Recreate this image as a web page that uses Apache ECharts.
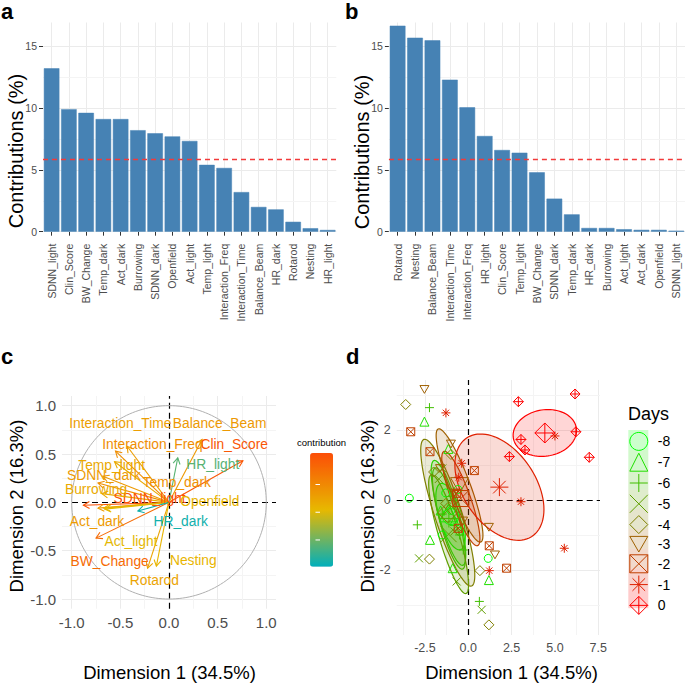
<!DOCTYPE html>
<html><head><meta charset="utf-8">
<script src="https://cdn.jsdelivr.net/npm/echarts@6/dist/echarts.min.js"></script>
<style>html,body{margin:0;padding:0;background:#fff}#c{width:685px;height:683px}</style>
</head><body><div id="c"></div>
<script>
// ---------- DATA ----------
const categoriesA = ['SDNN_light','Clin_Score','BW_Change','Temp_dark','Act_dark','Burrowing','SDNN_dark','Openfield','Act_light','Temp_light','Interaction_Freq','Interaction_Time','Balance_Beam','HR_dark','Rotarod','Nesting','HR_light'];
const contribA = [13.2,9.9,9.6,9.1,9.1,8.2,7.95,7.7,7.33,5.4,5.15,3.2,2.0,1.8,0.8,0.28,0.14];
const categoriesB = ['Rotarod','Nesting','Balance_Beam','Interaction_Time','Interaction_Freq','HR_light','Clin_Score','Temp_light','BW_Change','SDNN_dark','Temp_dark','HR_dark','Burrowing','Act_light','Act_dark','Openfield','SDNN_light'];
const contribB = [16.64,15.67,15.46,12.28,10.05,7.73,6.6,6.38,4.8,2.67,1.4,0.3,0.3,0.2,0.15,0.15,0.08];
const expectedContrib = 5.88;
const contribTicks = [0,5,10,15];

const pcaVars = ['SDNN_light','Clin_Score','BW_Change','Temp_dark','Act_dark','Burrowing','SDNN_dark','Openfield','Act_light','Temp_light','Interaction_Freq','Interaction_Time','Balance_Beam','HR_dark','Rotarod','Nesting','HR_light'];
const pcaDim1 = [-0.88,0.76,-0.75,-0.73,-0.73,-0.69,-0.68,-0.67,-0.66,-0.56,-0.55,-0.43,0.34,-0.32,-0.22,-0.13,0.09];
const pcaDim2 = [-0.03,0.43,-0.37,0.20,-0.06,0.09,0.27,-0.06,-0.07,0.42,0.53,0.58,0.65,-0.09,-0.68,-0.66,0.46];
const pcaContrib = [8.99,8.85,8.06,6.63,6.23,5.66,6.25,5.28,5.04,5.72,6.72,6.11,6.31,1.32,5.88,5.21,2.57];
const pcaLabelX = [-0.20,0.67,-0.61,0.08,-0.74,-0.75,-0.67,0.42,-0.39,-0.59,-0.17,-0.50,0.52,0.12,-0.15,0.25,0.45];
const pcaLabelY = [0.04,0.60,-0.61,0.21,-0.20,0.13,0.28,0.01,-0.40,0.38,0.60,0.82,0.82,-0.20,-0.81,-0.60,0.39];
const circleTicks = [-1,-0.5,0,0.5,1];
const contribLegendTicks = [3,5,7];

const days = ['-8','-7','-6','-5','-4','-3','-2','-1','0'];
const dayM8 = [[-3.40,0.05],[1.15,-1.67],[-1.30,0.20],[-0.50,-0.90],[-1.00,-0.30],[-1.50,-1.00],[-0.60,0.30]];
const dayM7 = [[-2.53,2.24],[-2.21,-1.14],[1.19,-2.29],[-1.15,1.46],[-0.90,-1.95],[-1.60,-0.30],[-0.80,-0.60]];
const dayM6 = [[-2.24,2.64],[-2.94,-0.71],[0.64,-2.90],[-0.29,-1.43],[-1.50,-0.40],[-1.00,0.10],[-0.50,-1.00]];
const dayM5 = [[-2.84,-1.67],[0.77,-3.14],[-0.67,-2.33],[-1.70,0.60],[-1.20,-0.30],[-0.80,-0.90],[-1.50,0.90]];
const dayM4 = [[-3.61,2.73],[-2.24,-1.69],[0.67,-2.02],[1.19,-3.57],[-1.00,1.30],[-2.00,0.80],[-1.30,-0.10]];
const dayM3 = [[-2.53,3.16],[-1.00,1.60],[1.19,-0.78],[1.54,-1.57],[-1.63,0.90],[-0.80,0.20],[-0.30,-0.60]];
const dayM2 = [[-3.32,1.95],[-2.21,1.38],[0.35,0.84],[1.21,-1.31],[2.21,-1.95],[-0.58,-0.81],[-0.67,0.19]];
const dayM1 = [[-1.29,2.49],[-0.38,1.05],[-0.55,0.65],[3.04,-0.05],[5.00,1.83],[5.54,-1.38],[1.21,-2.02]];
const day0  = [[2.89,2.81],[6.16,3.03],[3.04,1.73],[3.27,1.43],[2.37,1.24],[6.21,1.95],[6.98,1.22]];
// ellipse spread per group: [sdX, sdY, correlation]
const ellipseM8 = [0.85,0.95,-0.6];
const ellipseM7 = [1.0,1.5,-0.8];
const ellipseM6 = [0.95,1.45,-0.8];
const ellipseM5 = [1.15,1.7,-0.85];
const ellipseM4 = [1.56,2.1,-0.85];
const ellipseM3 = [1.35,1.62,-0.88];
const ellipseM2 = [1.1,1.35,-0.85];
const ellipseM1 = [2.57,1.52,-0.42];
const ellipse0  = [1.83,0.67,0.1];
const dimXTicks = [-2.5,0,2.5,5,7.5];
const dimYTicks = [-2,0,2];

// ---------- STYLE ----------
const FONT = 'Liberation Sans, Arial, Helvetica, sans-serif';
const groups = [dayM8,dayM7,dayM6,dayM5,dayM4,dayM3,dayM2,dayM1,day0];
const ellipses = [ellipseM8,ellipseM7,ellipseM6,ellipseM5,ellipseM4,ellipseM3,ellipseM2,ellipseM1,ellipse0];
const dayColors = ['#00FF00','#20DF00','#40BF00','#609F00','#7F7F00','#9F6000','#BF4000','#DF2000','#FF0000'];
const daySymbols = ['circle','triangle','path://M5 0L5 10M0 5L10 5','path://M0 0L10 10M10 0L0 10','diamond',
  'path://M0 0L10 0L5 8.66Z','path://M0 0L10 0L10 10L0 10ZM0 0L10 10M10 0L0 10',
  'path://M5 0L5 10M0 5L10 5M1.5 1.5L8.5 8.5M8.5 1.5L1.5 8.5','path://M5 0L10 5L5 10L0 5ZM5 0L5 10M0 5L10 5'];
const daySizes = [8,9,9,8,10,9,8,9,10];
function hexA(h,a){const n=parseInt(h.slice(1),16);return `rgba(${n>>16},${(n>>8)&255},${n&255},${a})`;}
const means = groups.map(g=>[g.reduce((s,p)=>s+p[0],0)/g.length, g.reduce((s,p)=>s+p[1],0)/g.length]);

const tick = {show:true,length:4,lineStyle:{color:'#333333',width:1}};
function lab(fs,extra){return Object.assign({color:'#4D4D4D',fontSize:fs,fontFamily:FONT},extra||{});}
function gridLines(xi,yi,xs,ys,color,width,z,type){
  return {type:'line',xAxisIndex:xi,yAxisIndex:yi,data:[],silent:true,z:z,
    markLine:{z:z,silent:true,symbol:['none','none'],label:{show:false},animation:false,
      lineStyle:{color:color,width:width,type:type||'solid'},emphasis:{disabled:true},
      data:[...xs.map(v=>({xAxis:v})),...ys.map(v=>({yAxis:v}))]}};
}
function minors(ticks){const r=[];for(let i=0;i<ticks.length-1;i++)r.push((ticks[i]+ticks[i+1])/2);return r;}
const abMinY=[...minors(contribTicks)];
const cMinX=[-0.75,-0.25,0.25,0.75];
const dMinX=[-3.75,...minors(dimXTicks)];
const dMinY=[-3,...minors(dimYTicks),3];

const chart = echarts.init(document.getElementById('c'),null,{renderer:'svg'});
const catAxis = (gi,data)=>({type:'category',gridIndex:gi,data:data,axisLine:{show:false},
  axisTick:Object.assign({alignWithLabel:true},tick),splitLine:{show:false},
  axisLabel:lab(10.5,{rotate:90,interval:0,margin:12})});
const customAxis = (gi,min,max,ticks,fs,fmt)=>({type:'value',gridIndex:gi,min:min,max:max,axisLine:{show:false},
  axisTick:Object.assign({customValues:ticks},tick),splitLine:{show:false},
  axisLabel:lab(fs,{customValues:ticks,formatter:fmt,margin:6})});

const series = [];
// panel a
series.push(gridLines(0,0,categoriesA,contribTicks,'#EBEBEB',1,1));
series.push(gridLines(0,0,[],abMinY,'#F4F4F4',1,1));
series.push({type:'bar',xAxisIndex:0,yAxisIndex:0,z:4,barWidth:'90%',data:contribA,
  itemStyle:{color:'#4682B4',borderColor:'#4682B4',borderWidth:0.5},silent:true});
series.push(gridLines(0,0,[],[expectedContrib],'#F23A3A',1.3,6,[5,4]));
// panel b
series.push(gridLines(1,1,categoriesB,contribTicks,'#EBEBEB',1,1));
series.push(gridLines(1,1,[],abMinY,'#F4F4F4',1,1));
series.push({type:'bar',xAxisIndex:1,yAxisIndex:1,z:4,barWidth:'90%',data:contribB,
  itemStyle:{color:'#4682B4',borderColor:'#4682B4',borderWidth:0.5},silent:true});
series.push(gridLines(1,1,[],[expectedContrib],'#F23A3A',1.3,6,[5,4]));
// panel c
series.push(gridLines(2,2,circleTicks.filter(v=>v!==0),circleTicks.filter(v=>v!==0),'#EBEBEB',1,1));
series.push(gridLines(2,2,cMinX,cMinX,'#F4F4F4',1,1));
const circ=[];for(let k=0;k<=180;k++){const t=k/180*2*Math.PI;circ.push([Math.cos(t),Math.sin(t)]);}
series.push({type:'line',xAxisIndex:2,yAxisIndex:2,data:circ,showSymbol:false,symbol:'none',z:2,silent:true,
  lineStyle:{color:'#B0B0B0',width:1}});
series.push(gridLines(2,2,[0],[0],'#000000',1.2,2,[6,4]));
const arrowIdx = series.length;
series.push({type:'custom',xAxisIndex:2,yAxisIndex:2,z:4,silent:true,
  data:pcaVars.map((n,i)=>[pcaDim1[i],pcaDim2[i],pcaContrib[i]]),encode:{x:0,y:1},
  renderItem:function(params,api){
    const o=api.coord([0,0]),t=api.coord([api.value(0),api.value(1)]);
    const col=api.visual('color');const ang=Math.atan2(t[1]-o[1],t[0]-o[0]);const L=7,a=Math.PI/6;
    const p1=[t[0]-L*Math.cos(ang-a),t[1]-L*Math.sin(ang-a)],p2=[t[0]-L*Math.cos(ang+a),t[1]-L*Math.sin(ang+a)];
    return {type:'group',children:[
      {type:'line',shape:{x1:o[0],y1:o[1],x2:t[0],y2:t[1]},style:{stroke:col,lineWidth:1.1}},
      {type:'polyline',shape:{points:[p1,t,p2]},style:{stroke:col,fill:null,lineWidth:1.1}}]};
  }});
const labelIdx = series.length;
series.push({type:'custom',xAxisIndex:2,yAxisIndex:2,z:5,silent:true,
  data:pcaVars.map((n,i)=>[pcaLabelX[i],pcaLabelY[i],pcaContrib[i]]),encode:{x:0,y:1},
  renderItem:function(params,api){
    const p=api.coord([api.value(0),api.value(1)]);
    return {type:'text',x:p[0],y:p[1],style:{text:pcaVars[params.dataIndex],fill:api.visual('color'),
      fontSize:13.8,fontFamily:FONT,align:'center',verticalAlign:'middle'}};
  }});
// panel d
series.push(gridLines(3,3,dimXTicks.filter(v=>v!==0),dimYTicks.filter(v=>v!==0),'#EBEBEB',1,1));
series.push(gridLines(3,3,dMinX,dMinY,'#F4F4F4',1,1));
series.push(gridLines(3,3,[0],[0],'#000000',1.2,2,[6,4]));
groups.forEach((g,i)=>{
  series.push({type:'custom',name:'ellipse'+days[i],xAxisIndex:3,yAxisIndex:3,z:3,silent:true,
    data:[[means[i][0],means[i][1],ellipses[i][0],ellipses[i][1],ellipses[i][2]]],encode:{x:0,y:1},
    renderItem:function(params,api){
      const cx=api.value(0),cy=api.value(1),sx=api.value(2),sy=api.value(3),r=api.value(4);
      const pts=[];for(let k=0;k<=90;k++){const t=k/90*2*Math.PI;
        pts.push(api.coord([cx+sx*Math.cos(t),cy+sy*(r*Math.cos(t)+Math.sqrt(1-r*r)*Math.sin(t))]));}
      return {type:'polygon',shape:{points:pts},style:{fill:hexA(dayColors[i],0.16),stroke:dayColors[i],lineWidth:1.2}};
    }});
});
groups.forEach((g,i)=>{
  series.push({type:'scatter',name:days[i],xAxisIndex:3,yAxisIndex:3,z:4,silent:true,
    symbol:daySymbols[i],symbolKeepAspect:true,symbolSize:daySizes[i],
    itemStyle:{color:'rgba(0,0,0,0)',borderColor:dayColors[i],borderWidth:1,opacity:1},
    data:[...g,{value:means[i],symbolSize:daySizes[i]*2}]});
});

const letter = (t,x,y)=>({type:'text',x:x,y:y,style:{text:t,fontSize:22,fontWeight:'bold',fontFamily:FONT,fill:'#000',verticalAlign:'top'}});
const graphic = [
  letter('a',1,0),letter('b',345,0),letter('c',1,345),letter('d',346,345),
  {type:'text',x:16,y:151,rotation:Math.PI/2,style:{text:'Contributions (%)',fontSize:20,fontFamily:FONT,fill:'#000',align:'center',verticalAlign:'middle'}},
  {type:'text',x:362,y:152,rotation:Math.PI/2,style:{text:'Contributions (%)',fontSize:20,fontFamily:FONT,fill:'#000',align:'center',verticalAlign:'middle'}},
  {type:'text',x:16.5,y:506,rotation:Math.PI/2,style:{text:'Dimension 2 (16.3%)',fontSize:18.5,fontFamily:FONT,fill:'#000',align:'center',verticalAlign:'middle'}},
  {type:'text',x:169.5,y:672,style:{text:'Dimension 1 (34.5%)',fontSize:18.5,fontFamily:FONT,fill:'#000',align:'center',verticalAlign:'middle'}},
  {type:'text',x:367,y:506,rotation:Math.PI/2,style:{text:'Dimension 2 (16.3%)',fontSize:18.5,fontFamily:FONT,fill:'#000',align:'center',verticalAlign:'middle'}},
  {type:'text',x:511.5,y:672,style:{text:'Dimension 1 (34.5%)',fontSize:18.5,fontFamily:FONT,fill:'#000',align:'center',verticalAlign:'middle'}},
  {type:'text',x:628,y:414,style:{text:'Days',fontSize:18,fontFamily:FONT,fill:'#000',verticalAlign:'middle'}}
];
days.forEach((d,i)=>graphic.push({type:'rect',z:-1,shape:{x:628.3,y:430+i*19.8,width:20,height:19.8},
  style:{fill:hexA(dayColors[i],0.2),stroke:null}}));
const vmMin=1.0,vmMax=9.2,barTop=454,barH=113.7;
contribLegendTicks.forEach(v=>{const y=barTop+barH-(v-vmMin)/(vmMax-vmMin)*barH;
  graphic.push({type:'line',z:100,shape:{x1:297,y1:y,x2:301.5,y2:y},style:{stroke:'#fff',lineWidth:1}});
  graphic.push({type:'line',z:100,shape:{x1:315.5,y1:y,x2:320,y2:y},style:{stroke:'#fff',lineWidth:1}});});

chart.setOption({
  animation:false,
  grid:[
    {left:43,top:22.5,width:293.3,height:209.2},
    {left:388.9,top:22.5,width:298.2,height:209.2},
    {left:62,top:396,width:214,height:212.7},
    {left:396.7,top:380,width:203.3,height:255}
  ],
  xAxis:[catAxis(0,categoriesA),catAxis(1,categoriesB),
    customAxis(2,-1.1,1.1,circleTicks,15,v=>v.toFixed(1)),
    customAxis(3,-4.13,7.6,dimXTicks,12.5,v=>v.toFixed(1))],
  yAxis:[customAxis(0,0,16.9,contribTicks,10.5,v=>String(v)),customAxis(1,0,16.9,contribTicks,10.5,v=>String(v)),
    customAxis(2,-1.1,1.1,circleTicks,15,v=>v.toFixed(1)),
    customAxis(3,-3.86,3.43,dimYTicks,12.5,v=>String(v))],
  visualMap:[{type:'continuous',min:vmMin,max:vmMax,dimension:2,seriesIndex:[arrowIdx,labelIdx],
    inRange:{color:['#00AFBB','#E7B800','#FC4E07']},calculable:false,orient:'vertical',
    left:297,top:437,itemWidth:23,itemHeight:barH,padding:0,text:['contribution',''],textGap:6,
    textStyle:{fontSize:9.5,fontFamily:FONT,color:'#000'},hoverLink:false}],
  legend:{orient:'vertical',left:629.3,top:431.9,itemWidth:18,itemHeight:18,itemGap:1.8,padding:0,
    selectedMode:false,textStyle:{fontSize:14,fontFamily:FONT,color:'#000',padding:[0,0,0,5]},
    data:days.map((d,i)=>({name:d,icon:daySymbols[i],itemStyle:{color:'rgba(0,0,0,0)',borderColor:dayColors[i],borderWidth:1}}))},
  graphic:graphic,
  series:series
});
</script></body></html>
